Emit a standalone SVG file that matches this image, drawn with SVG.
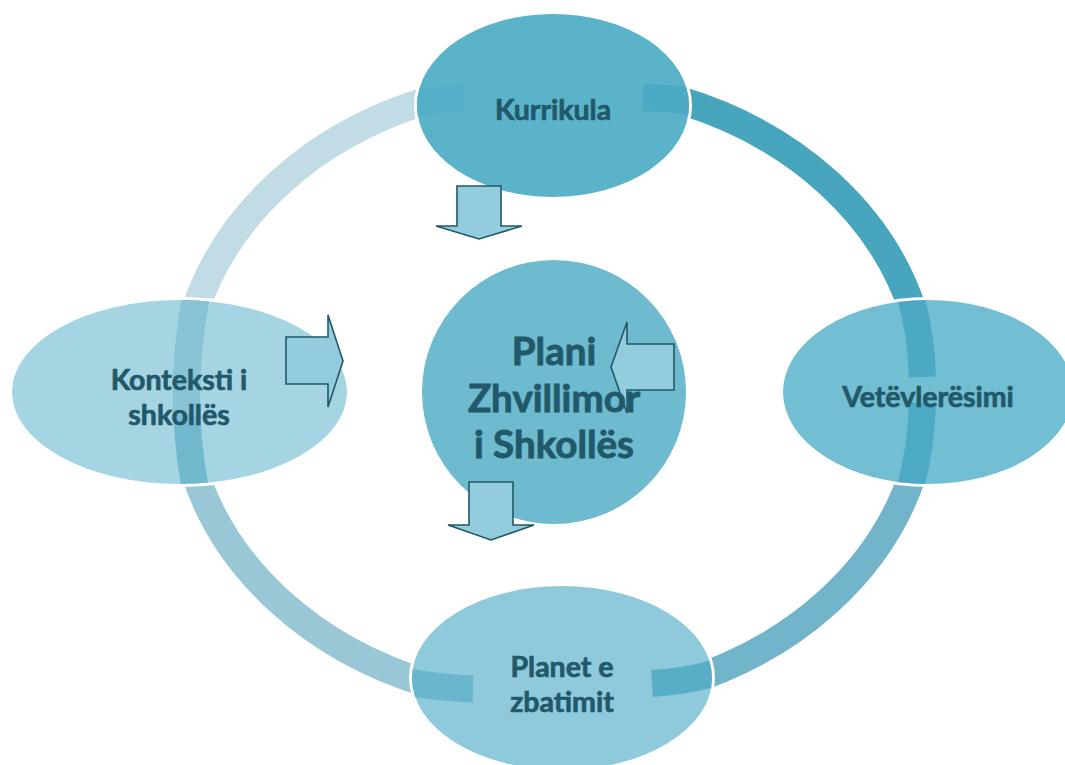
<svg xmlns="http://www.w3.org/2000/svg" width="1065" height="765" viewBox="0 0 1065 765">
<style>
.ring{fill:none;stroke-width:28;stroke-linecap:butt}
.band{fill:none;stroke-width:27;stroke-linecap:butt}
.halo{fill:#ffffff}
.lbl{font-family:Lato,"Open Sans","Liberation Sans",sans-serif;font-weight:bold;fill:#22596A;stroke:#22596A;text-anchor:middle}
.node{font-size:28.5px;stroke-width:0.7px}
.big{font-size:38.5px;stroke-width:0.9px}
.arrow{fill:#93CDDD;stroke:#215868;stroke-width:1.6;stroke-linejoin:miter}
</style>
<defs>
<clipPath id="cK"><ellipse cx="553" cy="105.5" rx="136" ry="91.5"/></clipPath>
<clipPath id="cL"><ellipse cx="179.5" cy="392" rx="167.5" ry="92"/></clipPath>
<clipPath id="cR"><ellipse cx="928" cy="392" rx="145" ry="92"/></clipPath>
<clipPath id="cB"><ellipse cx="562" cy="678" rx="150" ry="92"/></clipPath>
<clipPath id="cUp"><rect x="0" y="0" width="400" height="415"/></clipPath>
</defs>
<g id="connectors">
<path class="ring" stroke="#C2DCE5" d="M426.8,100.7 A372,310 0 0 0 194.7,311.8"/>
<path class="ring" stroke="#47A5BD" d="M681.2,100.7 A372,310 0 0 1 913.3,311.8"/>
<path class="ring" stroke="#72B4CA" d="M913.3,472.2 A372,310 0 0 1 681.2,683.3"/>
<path class="ring" stroke="#9AC7D6" d="M194.7,472.2 A372,310 0 0 0 426.8,683.3"/>
</g>
<g id="node-kurrikula">
<ellipse class="halo" cx="553" cy="105.5" rx="139" ry="94.5"/>
<ellipse cx="553" cy="105.5" rx="136" ry="91.5" fill="#5BB3CA"/>
<g clip-path="url(#cK)">
<path class="band" stroke="#53AEC7" d="M405,104 Q440,99 465,98.5"/>
<path class="band" stroke="#4AAAC3" d="M643,97.5 Q670,98 700,103"/>
</g>
<text class="lbl node" x="553" y="120">Kurrikula</text>
</g>
<g id="node-konteksti">
<ellipse class="halo" cx="179.5" cy="392" rx="170.5" ry="95"/>
<ellipse cx="179.5" cy="392" rx="167.5" ry="92" fill="#A5D5E2"/>
<g clip-path="url(#cL)">
<path class="band" stroke="#73B9CD" d="M197,292 Q176.5,392 196,492"/>
<path class="band" stroke="#88C4D5" clip-path="url(#cUp)" d="M197,292 Q176.5,392 196,492"/>
</g>
<text class="lbl node" x="179" y="390">Konteksti i</text>
<text class="lbl node" x="179" y="425">shkollës</text>
</g>
<g id="node-vetevleresimi">
<ellipse class="halo" cx="928" cy="392" rx="148" ry="95"/>
<ellipse cx="928" cy="392" rx="145" ry="92" fill="#72BED3"/>
<g clip-path="url(#cR)">
<path class="band" stroke="#4BA9C3" d="M909,292 Q921,330 922.5,377"/>
<path class="band" stroke="#4DAAC4" d="M922.5,403 Q921,452 909,492"/>
</g>
<text class="lbl node" x="928" y="407">Vetëvlerësimi</text>
</g>
<g id="node-planet">
<ellipse class="halo" cx="562" cy="678" rx="153" ry="95"/>
<ellipse cx="562" cy="678" rx="150" ry="92" fill="#8FCADC"/>
<g clip-path="url(#cB)">
<path class="band" stroke="#69B6CD" d="M402,681 Q440,688 473,689"/>
<path class="band" stroke="#57AEC7" d="M652,683.5 Q690,681 722,671"/>
</g>
<text class="lbl node" x="562" y="677">Planet e</text>
<text class="lbl node" x="562" y="712">zbatimit</text>
</g>
<g id="node-center">
<circle cx="554" cy="392" r="132" fill="#6EBBD0"/>
</g>
<g id="arrows">
<polygon class="arrow" points="457,186 501,186 501,226 522,226 479,239 436,226 457,226"/>
<polygon class="arrow" points="674,344 674,390 627,390 627,413 611,367 627,322 627,344"/>
<polygon class="arrow" points="469,482 513,482 513,525 534,525 491,540 448,525 469,525"/>
<polygon class="arrow" points="286,337 328,337 328,315 343,361 328,407 328,384 286,384"/>
</g>
<g id="center-text">
<text class="lbl big" x="554" y="365">Plani</text>
<text class="lbl big" x="554" y="412">Zhvillimor</text>
<text class="lbl big" x="554" y="458">i Shkollës</text>
</g>
</svg>
